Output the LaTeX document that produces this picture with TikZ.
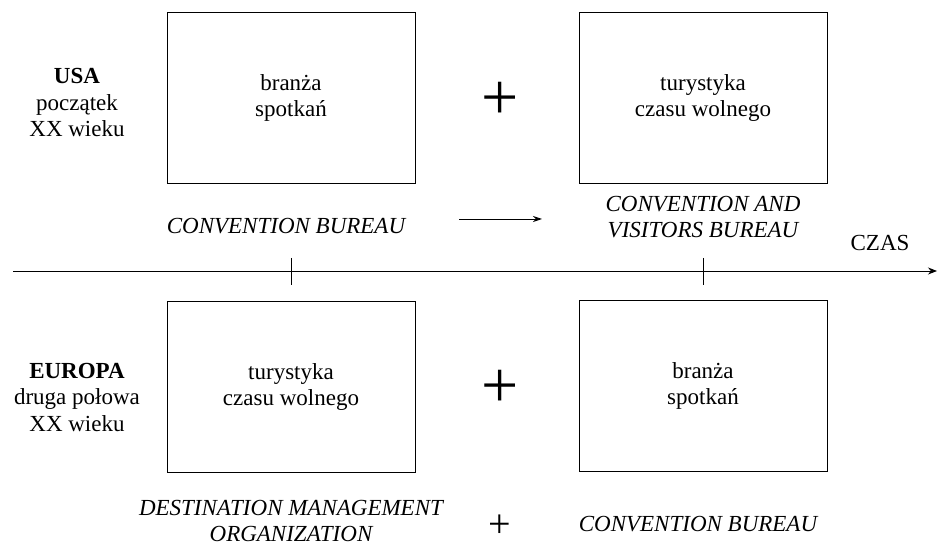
\documentclass[tikz,border=0pt]{standalone}
\usepackage{fontspec}
\setmainfont{Liberation Serif}
\usetikzlibrary{arrows.meta}
\begin{document}
\begin{tikzpicture}[x=1pt,y=-1pt,
  txt/.style={font=\fontsize{23}{26.5}\selectfont, align=center, inner sep=0pt},
  org/.style={font=\fontsize{23}{26.5}\selectfont\itshape, align=center, inner sep=0pt},
  field/.style={draw, line width=0.9pt, minimum width=248pt, minimum height=171pt, inner sep=0pt,
                font=\fontsize{23}{26}\selectfont, align=center},
  bigplus/.style={font=\fontsize{66}{66}\selectfont, inner sep=0pt, anchor=base},
  smallplus/.style={font=\fontsize{40}{40}\selectfont, inner sep=0pt, anchor=base, text depth=0pt},
  axis/.style={line width=0.9pt}]
\useasboundingbox (0,0) rectangle (938,545);

% time axis with two ticks
\coordinate (axstart) at (13,271);
\coordinate (axend) at (937,271);
\draw[axis, -{Stealth[length=9pt,width=7pt]}] (axstart) -- (axend);
\coordinate (t1a) at (291,258); \coordinate (t1b) at (291,285);
\coordinate (t2a) at (703,258); \coordinate (t2b) at (703,285);
\draw[axis] (t1a) -- (t1b);
\draw[axis] (t2a) -- (t2b);
\node[txt] (czas) at (880,243) {CZAS};

% USA row
\node[txt] (usa) at (77,103) {\textbf{USA}\\początek\\XX wieku};
\node[field] (usa1) at (291,98) {branża\\spotkań};
\node[field] (usa2) at (703,98) {turystyka\\czasu wolnego};
\node[bigplus] (plus1) at (500,120) {+};
\node[org] (cb1) at (286,226) {CONVENTION BUREAU};
\node[org] (cvb) at (703,217) {CONVENTION AND\\VISITORS BUREAU};
\coordinate (arra) at (459,219);
\coordinate (arrb) at (542,219);
\draw[axis, -{Stealth[length=9pt,width=6pt]}] (arra) -- (arrb);

% Europe row
\node[txt] (eu) at (77,397) {\textbf{EUROPA}\\druga połowa\\XX wieku};
\node[field] (eu1) at (291,387) {turystyka\\czasu wolnego};
\node[field] (eu2) at (703,386) {branża\\spotkań};
\node[bigplus] (plus2) at (500,408) {+};
\node[org] (dmo) at (291,521) {DESTINATION MANAGEMENT\\ORGANIZATION};
\node[smallplus] (plus3) at (500,537) {+};
\node[org] (cb2) at (698,524) {CONVENTION BUREAU};
\end{tikzpicture}
\end{document}
